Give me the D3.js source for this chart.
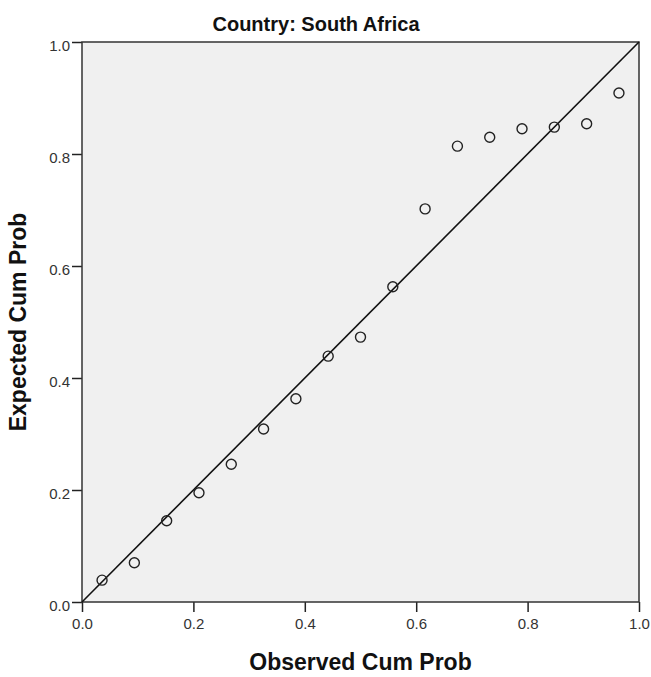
<!DOCTYPE html>
<html lang="en">
<head>
<meta charset="utf-8">
<title>Country: South Africa</title>
<script src="https://d3js.org/d3.v7.min.js"></script>
<style>
	body { margin: 0; background: #fff; }
	text { font-family: "Liberation Sans", Arial, sans-serif; }
	.label { font-weight: bold; }
</style>
</head>
<body>
<div id="chart"></div>
<script>
	// observed and expected cumulative probabilities
	var observed = [0.036, 0.094, 0.152, 0.210, 0.268, 0.326, 0.384, 0.442, 0.500,
		0.558, 0.616, 0.674, 0.732, 0.790, 0.848, 0.906, 0.964];
	var expected = [0.039, 0.070, 0.145, 0.195, 0.246, 0.309, 0.363, 0.439, 0.473,
		0.563, 0.702, 0.814, 0.830, 0.845, 0.848, 0.854, 0.909];
	var ticks = [0, 0.2, 0.4, 0.6, 0.8, 1.0];
	var refLine = [0, 1];

	var margin = {top: 42, right: 12, bottom: 75, left: 82},
		width = 651 - margin.left - margin.right,
		height = 677 - margin.top - margin.bottom;

	var svg = d3.select("#chart").append("svg")
		.attr("width", 651)
		.attr("height", 677);

	var g = svg.append("g")
		.attr("transform", "translate(" + margin.left + "," + margin.top + ")");

	var x = d3.scaleLinear().domain([0, 1]).range([0, width]),
		y = d3.scaleLinear().domain([0, 1]).range([height, 0]);

	g.append("rect")
		.attr("width", width)
		.attr("height", height)
		.attr("fill", "#f0f0f0");

	var xAxis = d3.axisBottom(x).tickValues(ticks).tickFormat(d3.format(".1f")).tickSize(10).tickSizeOuter(0);
	var yAxis = d3.axisLeft(y).tickValues(ticks).tickFormat(d3.format(".1f")).tickSize(10).tickSizeOuter(0);

	g.append("g")
		.attr("transform", "translate(0," + height + ")")
		.call(xAxis)
		.call(function(a) {
			a.select(".domain").remove();
			a.selectAll("line").attr("stroke", "#222").attr("stroke-width", 1.5);
			a.selectAll("text").attr("font-size", 15).attr("fill", "#333").attr("y", 16)
				.attr("font-family", "Liberation Sans, Arial, sans-serif");
		});
	g.append("g")
		.call(yAxis)
		.call(function(a) {
			a.select(".domain").remove();
			a.selectAll("line").attr("stroke", "#222").attr("stroke-width", 1.5);
			a.selectAll("text").attr("font-size", 15).attr("fill", "#333").attr("x", -12).attr("y", 4)
				.attr("font-family", "Liberation Sans, Arial, sans-serif");
		});

	// frame
	g.append("rect")
		.attr("width", width)
		.attr("height", height)
		.attr("fill", "none")
		.attr("stroke", "#333")
		.attr("stroke-width", 1.5);

	// reference line
	g.append("line")
		.attr("x1", x(refLine[0])).attr("y1", y(refLine[0]))
		.attr("x2", x(refLine[1])).attr("y2", y(refLine[1]))
		.attr("stroke", "#111")
		.attr("stroke-width", 1.6);

	g.selectAll(".dot")
		.data(observed)
		.enter()
		.append("circle")
		.attr("class", "dot")
		.attr("cx", function(d) { return x(d); })
		.attr("cy", function(d, i) { return y(expected[i]); })
		.attr("r", 5)
		.attr("fill", "none")
		.attr("stroke", "#222")
		.attr("stroke-width", 1.4);

	svg.append("text")
		.attr("class", "label")
		.attr("x", 316)
		.attr("y", 31)
		.attr("text-anchor", "middle")
		.attr("font-size", 20)
		.attr("fill", "#111")
		.text("Country: South Africa");

	svg.append("text")
		.attr("class", "label")
		.attr("x", margin.left + width / 2)
		.attr("y", 670)
		.attr("text-anchor", "middle")
		.attr("font-size", 23)
		.attr("fill", "#111")
		.text("Observed Cum Prob");

	svg.append("text")
		.attr("class", "label")
		.attr("transform", "translate(26," + (margin.top + height / 2) + ") rotate(-90)")
		.attr("text-anchor", "middle")
		.attr("font-size", 23)
		.attr("fill", "#111")
		.text("Expected Cum Prob");
</script>
</body>
</html>
